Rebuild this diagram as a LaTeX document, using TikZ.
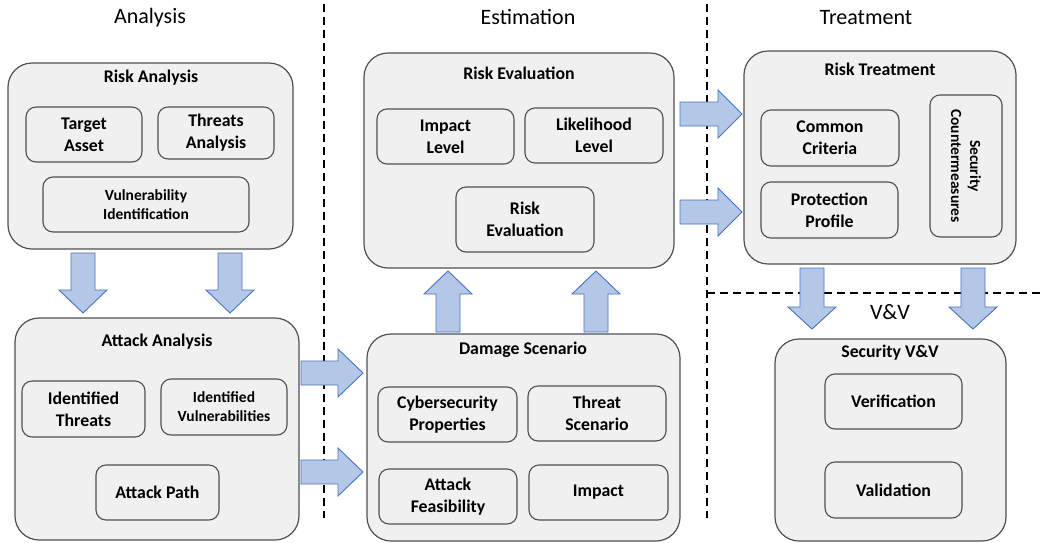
\documentclass[tikz,border=0pt]{standalone}
\usepackage{fontspec}
\setmainfont{Carlito}
\definecolor{boxfill}{RGB}{240,240,240}
\definecolor{boxline}{RGB}{80,80,80}
\definecolor{arrowfill}{RGB}{180,199,231}
\definecolor{arrowline}{RGB}{68,114,196}
\tikzset{
  outerbox/.style={draw=boxline, fill=boxfill, line width=1.2pt, rounded corners=24pt, inner sep=0pt},
  innerbox/.style={draw=boxline, fill=boxfill, line width=1.1pt, rounded corners=10pt, align=center,
    font=\bfseries\fontsize{17.8}{22}\selectfont, inner sep=0pt},
  smalltext/.style={font=\bfseries\fontsize{15.5}{19}\selectfont},
  boxtitle/.style={font=\bfseries\fontsize{17.8}{22}\selectfont, inner sep=0pt},
  phase/.style={font=\fontsize{22}{26}\selectfont, inner sep=0pt},
  blockarrow/.style={draw=arrowline, fill=arrowfill, line width=0.9pt, line join=miter},
  divider/.style={draw=black, line width=1.8pt, dash pattern=on 8pt off 5pt},
}
% block arrows: centre line, tail, head base, tip
\newcommand\blkdown[4]{\draw[blockarrow] (#1-12,#2) -- (#1+12,#2) -- (#1+12,#3) -- (#1+24,#3) -- (#1,#4) -- (#1-24,#3) -- (#1-12,#3) -- cycle;}
\newcommand\blkup[4]{\draw[blockarrow] (#1-12,#2) -- (#1+12,#2) -- (#1+12,#3) -- (#1+24,#3) -- (#1,#4) -- (#1-24,#3) -- (#1-12,#3) -- cycle;}
\newcommand\blkright[4]{\draw[blockarrow] (#2,#1-12) -- (#2,#1+12) -- (#3,#1+12) -- (#3,#1+24) -- (#4,#1) -- (#3,#1-24) -- (#3,#1-12) -- cycle;}
\begin{document}
\begin{tikzpicture}[x=1pt,y=-1pt]
\useasboundingbox (0,0) rectangle (1045,542);

% phase dividers
\draw[divider] (324,4) -- (324,518);
\draw[divider] (707,4) -- (707,518);
\draw[divider] (707,293) -- (1045,293);

% phase headings
\node[phase] (hAna) at (150,18) {Analysis};
\node[phase] (hEst) at (528,17) {Estimation};
\node[phase] (hTre) at (866,18) {Treatment};
\node[phase] (hVV) at (890,312) {V\&V};

% Risk Analysis
\node[outerbox, minimum width=285pt, minimum height=186pt] (ra) at (150.5,156) {};
\node[boxtitle] (raT) at (151,78) {Risk Analysis};
\node[innerbox, minimum width=116pt, minimum height=55pt] (ta) at (84,134.5) {Target\\Asset};
\node[innerbox, minimum width=116pt, minimum height=52pt] (tha) at (216,133) {Threats\\Analysis};
\node[innerbox, smalltext, minimum width=206pt, minimum height=55pt] (vi) at (146,204.5) {Vulnerability\\Identification};

% Attack Analysis
\node[outerbox, minimum width=284pt, minimum height=222pt] (aa) at (157,429) {};
\node[boxtitle] (aaT) at (157,342) {Attack Analysis};
\node[innerbox, minimum width=123pt, minimum height=56pt] (it) at (83.5,409) {Identified\\Threats};
\node[innerbox, smalltext, minimum width=126pt, minimum height=56pt] (iv) at (224,407) {Identified\\Vulnerabilities};
\node[innerbox, minimum width=123pt, minimum height=55pt] (ap) at (157.5,492.5) {Attack Path};

% Risk Evaluation
\node[outerbox, minimum width=310pt, minimum height=215pt] (re) at (519,160.5) {};
\node[boxtitle] (reT) at (519,73) {Risk Evaluation};
\node[innerbox, minimum width=137pt, minimum height=55pt] (il) at (445.5,136.5) {Impact\\Level};
\node[innerbox, minimum width=138pt, minimum height=55pt] (ll) at (594,135.5) {Likelihood\\Level};
\node[innerbox, minimum width=138pt, minimum height=65pt] (rei) at (525,219.5) {Risk\\Evaluation};

% Damage Scenario
\node[outerbox, minimum width=313pt, minimum height=207pt] (ds) at (523.5,437.5) {};
\node[boxtitle] (dsT) at (523,350) {Damage Scenario};
\node[innerbox, minimum width=139pt, minimum height=55pt] (cp) at (447.5,414.5) {Cybersecurity\\Properties};
\node[innerbox, minimum width=138pt, minimum height=55pt] (ts) at (597,413.5) {Threat\\Scenario};
\node[innerbox, minimum width=138pt, minimum height=55pt] (af) at (448,496.5) {Attack\\Feasibility};
\node[innerbox, minimum width=139pt, minimum height=55pt] (im) at (598.5,492.5) {Impact};

% Risk Treatment
\node[outerbox, minimum width=272pt, minimum height=213pt] (rt) at (880,157.5) {};
\node[boxtitle] (rtT) at (880,69) {Risk Treatment};
\node[innerbox, minimum width=138pt, minimum height=56pt] (cc) at (830,138) {Common\\Criteria};
\node[innerbox, minimum width=137pt, minimum height=56pt] (pp) at (829.5,210) {Protection\\Profile};
\node[innerbox, minimum width=72pt, minimum height=142pt] (scb) at (966,166) {};
\node[smalltext, align=center, rotate=-90, inner sep=0pt] (sc) at (scb.center) {Security\\Countermeasures};

% Security V&V
\node[outerbox, minimum width=231pt, minimum height=202pt] (sv) at (890.5,440) {};
\node[boxtitle] (svT) at (890,353) {Security V\&V};
\node[innerbox, minimum width=137pt, minimum height=55pt] (ver) at (893.5,401.5) {Verification};
\node[innerbox, minimum width=137pt, minimum height=56pt] (val) at (893.5,490) {Validation};

% flow arrows
\blkdown{83}{253}{290}{313}
\blkdown{230}{253}{290}{313}
\blkright{373}{301}{338}{363}
\blkright{472}{301}{338}{363}
\blkup{448}{332}{294}{271}
\blkup{596}{332}{294}{271}
\blkright{114}{680}{718}{742}
\blkright{212}{680}{718}{742}
\blkdown{812}{268}{307}{329}
\blkdown{973}{268}{307}{329}
\end{tikzpicture}
\end{document}
